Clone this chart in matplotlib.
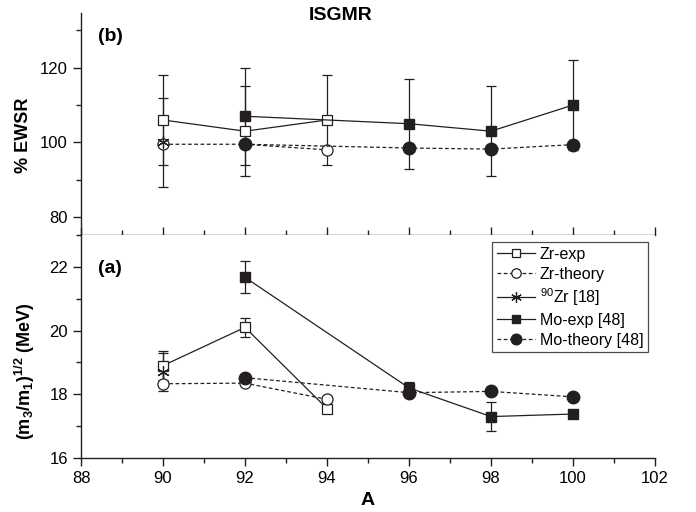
"""ISGMR strength (% EWSR) and moment-ratio energies for Zr and Mo isotopes."""

import matplotlib
matplotlib.use("Agg")
import matplotlib.pyplot as plt
from matplotlib.ticker import MultipleLocator

plt.rcParams["font.family"] = ["Liberation Sans", "DejaVu Sans"]
plt.rcParams["mathtext.default"] = "regular"

# --- data ---
A_zr = [90, 92, 94]
A_zr90 = [90]
A_mo = [92, 96, 98, 100]

# (b) % EWSR
ewsr_zr_exp = [106, 103, 106]
ewsr_zr_exp_err = [12, 12, 12]
ewsr_zr_th = [99.5, 99.5, 98.0]
ewsr_zr90 = [100]
ewsr_zr90_err = [12]
ewsr_mo_exp = [107, 105, 103, 110]
ewsr_mo_exp_err = [13, 12, 12, 12]
ewsr_mo_th = [99.5, 98.5, 98.2, 99.4]

# (a) (m3/m1)^1/2 in MeV
e_zr_exp = [18.9, 20.1, 17.55]
e_zr_exp_err = [0.45, 0.3, 0.15]
e_zr_th = [18.33, 18.35, 17.84]
e_zr90 = [18.7]
e_zr90_err = [0.6]
e_mo_exp = [21.67, 18.2, 17.3, 17.38]
e_mo_exp_err = [0.5, 0.2, 0.45, 0.12]
e_mo_th = [18.52, 18.05, 18.09, 17.92]

INK = "#231f20"
LW = 0.9
DASH = (0, (3, 2))
STAR = (6, 2, 0)


def draw_panel(ax, zr_exp, zr_exp_err, zr_th, zr90, zr90_err, mo_exp, mo_exp_err, mo_th):
    eb = dict(fmt="none", ecolor=INK, elinewidth=LW, capsize=3.5, capthick=LW, zorder=2)
    ax.errorbar(A_zr, zr_exp, yerr=zr_exp_err, **eb)
    ax.errorbar(A_zr90, zr90, yerr=zr90_err, **eb)
    ax.errorbar(A_mo, mo_exp, yerr=mo_exp_err, **eb)

    handles = []
    handles += ax.plot(A_zr, zr_exp, color=INK, lw=LW, ls="-",
                       marker="s", ms=6.5, mfc="white", mec=INK, mew=0.9,
                       label="Zr-exp", zorder=3)
    handles += ax.plot(A_zr, zr_th, color=INK, lw=LW, ls=DASH,
                       marker="o", ms=8, mfc="white", mec=INK, mew=0.9,
                       label="Zr-theory", zorder=3)
    handles += ax.plot(A_zr90, zr90, color=INK, lw=LW, ls="-",
                       marker=STAR, ms=9, mec=INK, mew=0.9,
                       label=r"$^{90}$Zr [18]", zorder=3)
    handles += ax.plot(A_mo, mo_exp, color=INK, lw=LW, ls="-",
                       marker="s", ms=7.5, mfc=INK, mec=INK,
                       label="Mo-exp [48]", zorder=4)
    handles += ax.plot(A_mo, mo_th, color=INK, lw=LW, ls=DASH,
                       marker="o", ms=9, mfc=INK, mec=INK,
                       label="Mo-theory [48]", zorder=4)

    ax.spines["top"].set_visible(False)
    ax.spines["right"].set_visible(False)
    for s in ("left", "bottom"):
        ax.spines[s].set_color(INK)
        ax.spines[s].set_linewidth(1.0)
    ax.set_xlim(88, 102)
    ax.xaxis.set_major_locator(MultipleLocator(2))
    ax.xaxis.set_minor_locator(MultipleLocator(1))
    ax.tick_params(which="major", length=6, width=1.0, color=INK, labelsize=12)
    ax.tick_params(which="minor", length=3.5, width=1.0, color=INK)
    return handles


fig = plt.figure(figsize=(6.96, 5.12), dpi=100)
ax_b = fig.add_axes([0.1164, 0.541, 0.8247, 0.434])
ax_a = fig.add_axes([0.1164, 0.1055, 0.8247, 0.4355])

draw_panel(ax_b, ewsr_zr_exp, ewsr_zr_exp_err, ewsr_zr_th, ewsr_zr90, ewsr_zr90_err,
           ewsr_mo_exp, ewsr_mo_exp_err, ewsr_mo_th)
handles = draw_panel(ax_a, e_zr_exp, e_zr_exp_err, e_zr_th, e_zr90, e_zr90_err,
                     e_mo_exp, e_mo_exp_err, e_mo_th)

# top panel
ax_b.set_ylim(75.2, 134.7)
ax_b.yaxis.set_major_locator(MultipleLocator(20))
ax_b.yaxis.set_minor_locator(MultipleLocator(10))
ax_b.tick_params(axis="x", which="both", direction="in", labelbottom=False)
ax_b.set_ylabel("% EWSR", fontsize=13, fontweight="bold")
ax_b.yaxis.set_label_coords(-0.085, 0.45)
ax_b.text(0.03, 0.875, "(b)", transform=ax_b.transAxes, fontsize=14, fontweight="bold")

# bottom panel
ax_a.set_ylim(16, 23)
ax_a.yaxis.set_major_locator(MultipleLocator(2))
ax_a.yaxis.set_minor_locator(MultipleLocator(1))
ax_a.set_xlabel("A", fontsize=14, fontweight="bold", labelpad=4)
ax_a.set_ylabel(r"(m$_3$/m$_1$)$^{1/2}$ (MeV)", fontsize=13, fontweight="bold")
ax_a.yaxis.set_label_coords(-0.077, 0.39)
ax_a.text(0.03, 0.83, "(a)", transform=ax_a.transAxes, fontsize=14, fontweight="bold")

leg = ax_a.legend(handles=handles, loc="upper right", bbox_to_anchor=(0.988, 0.969),
                  borderaxespad=0, fontsize=11.5, frameon=True, fancybox=False,
                  handlelength=2.4, handletextpad=0.3, labelspacing=0.3,
                  borderpad=0.3, markerscale=0.85)
leg.get_frame().set_edgecolor(INK)
leg.get_frame().set_linewidth(0.9)

fig.text(0.49, 0.97, "ISGMR", ha="center", va="center", fontsize=14, fontweight="bold")

fig.savefig("out.png", dpi=100)
